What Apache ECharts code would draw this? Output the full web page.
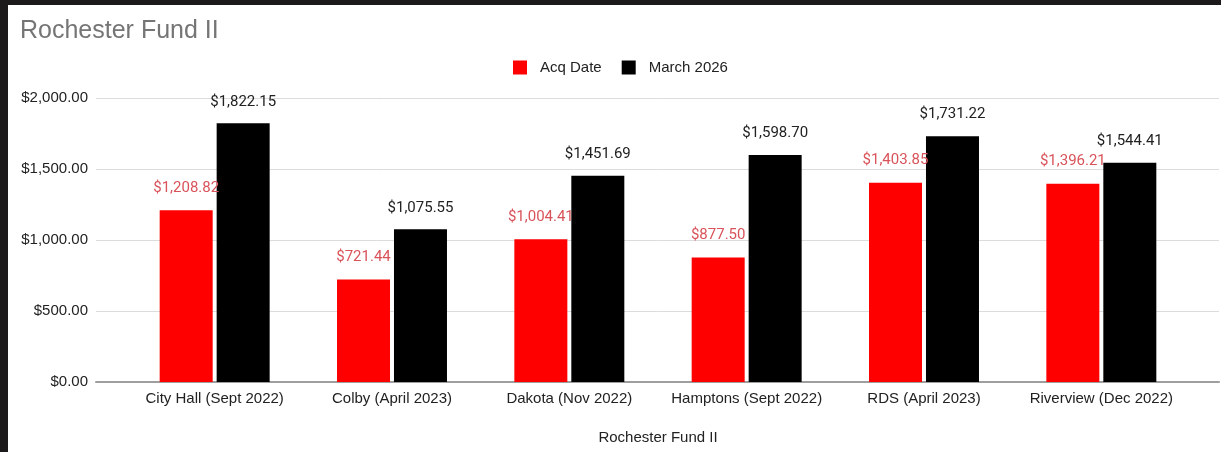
<!DOCTYPE html>
<html>
<head>
<meta charset="utf-8">
<title>Rochester Fund II</title>
<script src="https://cdn.jsdelivr.net/npm/echarts@6/dist/echarts.min.js"></script>
<style>
  html, body { margin: 0; padding: 0; background: #1c1a1b; width: 1221px; height: 452px; overflow: hidden; }
  #chart { position: absolute; left: 8px; top: 5px; width: 1213px; height: 447px; background: #ffffff; }
</style>
</head>
<body>
<div id="chart"></div>
<script>
// Properties in Rochester Fund II
const categories = [
  'City Hall (Sept 2022)',
  'Colby (April 2023)',
  'Dakota (Nov 2022)',
  'Hamptons (Sept 2022)',
  'RDS (April 2023)',
  'Riverview (Dec 2022)'
];
// Value at acquisition date
const acqDate = [1208.82, 721.44, 1004.41, 877.50, 1403.85, 1396.21];
// Value as of March 2026
const march2026 = [1822.15, 1075.55, 1451.69, 1598.70, 1731.22, 1544.41];
const seriesNames = ['Acq Date', 'March 2026'];
const yTicks = [0, 500, 1000, 1500, 2000];

const money = v => '$' + Number(v).toLocaleString('en-US', { minimumFractionDigits: 2, maximumFractionDigits: 2 });

const chart = echarts.init(document.getElementById('chart'), null, { renderer: 'canvas' });

const yMin = yTicks[0];
const yMax = yTicks[yTicks.length - 1];
const yStep = yTicks[1] - yTicks[0];

chart.setOption({
  animation: false,
  backgroundColor: '#ffffff',
  textStyle: { fontFamily: 'Arial, "Liberation Sans", sans-serif' },
  title: {
    text: 'Rochester Fund II',
    left: 7,
    top: 9,
    textStyle: { color: '#757575', fontSize: 25, fontWeight: 'normal', fontFamily: 'Arial, "Liberation Sans", sans-serif' }
  },
  legend: {
    data: seriesNames,
    left: 500,
    top: 50,
    itemWidth: 14,
    itemHeight: 14,
    itemGap: 20,
    icon: 'rect',
    textStyle: { color: '#222222', fontSize: 15, padding: [0, 0, 0, 8] }
  },
  grid: [
    // wide area: gridlines and baseline
    { left: 88, right: 2, top: 93, bottom: 70 },
    // bar area
    { left: 118, right: 31, top: 93, bottom: 70 }
  ],
  xAxis: [
    {
      gridIndex: 0, type: 'value', min: 0, max: 1,
      axisLine: { show: true, lineStyle: { color: '#9e9e9e', width: 2 } },
      axisTick: { show: false }, axisLabel: { show: false }, splitLine: { show: false }
    },
    {
      gridIndex: 1, type: 'category', data: categories,
      axisLine: { show: false }, axisTick: { show: false },
      axisLabel: { color: '#222222', fontSize: 15, margin: 9, interval: 0 },
      name: 'Rochester Fund II', nameLocation: 'middle', nameGap: 48,
      nameTextStyle: { color: '#222222', fontSize: 15 }
    }
  ],
  yAxis: [
    {
      gridIndex: 0, type: 'value', min: yMin, max: yMax, interval: yStep,
      axisLine: { show: false }, axisTick: { show: false },
      axisLabel: { color: '#222222', fontSize: 15, margin: 8, formatter: money },
      splitLine: { lineStyle: { color: '#dcdcdc', width: 1 } }
    },
    {
      gridIndex: 1, type: 'value', min: yMin, max: yMax, interval: yStep,
      axisLine: { show: false }, axisTick: { show: false },
      axisLabel: { show: false }, splitLine: { show: false }
    }
  ],
  series: [
    {
      name: seriesNames[0], type: 'bar', xAxisIndex: 1, yAxisIndex: 1,
      data: acqDate, barWidth: 53, barGap: '7.5%',
      itemStyle: { color: '#ff0000' },
      label: {
        show: true, position: 'top', distance: 15, formatter: p => money(p.value),
        color: '#d9535a', fontSize: 15, fontFamily: 'Roboto, Arial, sans-serif'
      },
      z: 3
    },
    {
      name: seriesNames[1], type: 'bar', xAxisIndex: 1, yAxisIndex: 1,
      data: march2026, barWidth: 53, barGap: '7.5%',
      itemStyle: { color: '#000000' },
      label: {
        show: true, position: 'top', distance: 14, formatter: p => money(p.value),
        color: '#222222', fontSize: 15, fontFamily: 'Roboto, Arial, sans-serif'
      },
      z: 2
    }
  ]
});
</script>
</body>
</html>
